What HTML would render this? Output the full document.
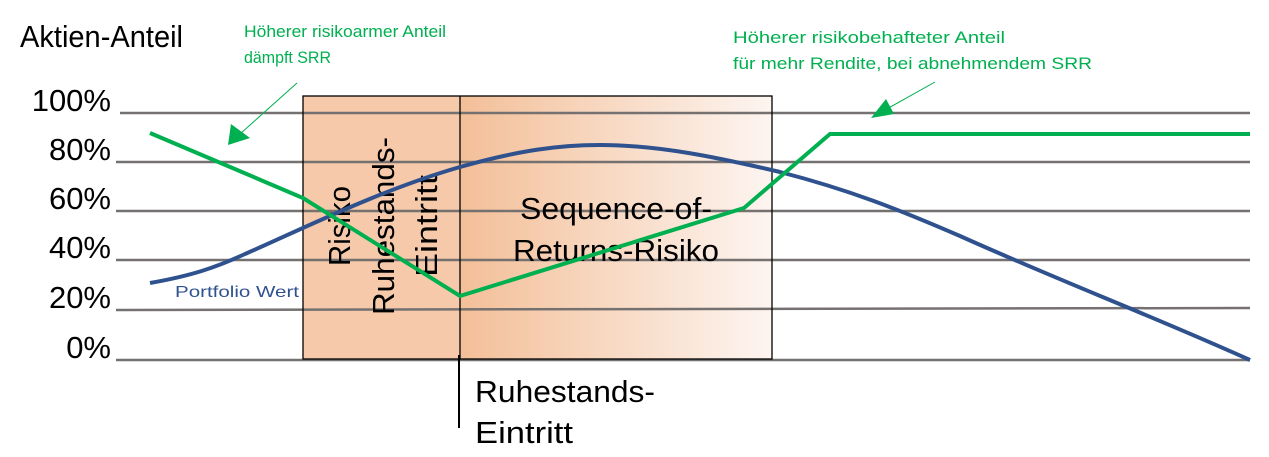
<!DOCTYPE html>
<html><head><meta charset="utf-8"><style>html,body{margin:0;padding:0;background:#fff}svg{display:block}</style></head>
<body>
<svg width="1269" height="457" viewBox="0 0 1269 457" xmlns="http://www.w3.org/2000/svg" font-family="Liberation Sans, sans-serif">
<defs>
<linearGradient id="g" x1="0" x2="1" y1="0" y2="0">
<stop offset="0" stop-color="#f3bf98"/><stop offset="1" stop-color="#fdf5f1"/>
</linearGradient>
</defs>
<rect x="303" y="96" width="157" height="263" fill="#f5c9a9"/>
<rect x="460" y="96" width="312" height="263" fill="url(#g)"/>
<g stroke="#767171" stroke-width="2.5">
<line x1="120" y1="113" x2="1250" y2="113"/>
<line x1="116" y1="162" x2="1250" y2="162"/>
<line x1="116" y1="211" x2="1250" y2="211"/>
<line x1="116" y1="260" x2="1250" y2="260"/>
<line x1="116" y1="310" x2="1250" y2="308"/>
<line x1="116" y1="360" x2="1250" y2="360"/>
</g>
<rect x="303" y="96" width="469" height="263" fill="none" stroke="#000" stroke-width="1.3"/>
<line x1="460" y1="96" x2="460" y2="359" stroke="#000" stroke-width="1.3"/>
<line x1="459" y1="355" x2="459" y2="428" stroke="#000" stroke-width="2"/>
<g font-size="31" fill="#000" lengthAdjust="spacingAndGlyphs">
<text transform="translate(350,226) rotate(-90)" text-anchor="middle" textLength="80" lengthAdjust="spacingAndGlyphs">Risiko</text>
<text transform="translate(394,226) rotate(-90)" text-anchor="middle" textLength="178" lengthAdjust="spacingAndGlyphs">Ruhestands-</text>
<text transform="translate(437,226) rotate(-90)" text-anchor="middle" textLength="102" lengthAdjust="spacingAndGlyphs">Eintritt</text>
<text x="616" y="219" text-anchor="middle" textLength="192" lengthAdjust="spacingAndGlyphs">Sequence-of-</text>
<text x="616" y="261" text-anchor="middle" textLength="206" lengthAdjust="spacingAndGlyphs">Returns-Risiko</text>
<text x="475" y="402" textLength="180" lengthAdjust="spacingAndGlyphs">Ruhestands-</text>
<text x="475" y="443" textLength="98" lengthAdjust="spacingAndGlyphs">Eintritt</text>
<text x="20" y="47" textLength="163" lengthAdjust="spacingAndGlyphs">Aktien-Anteil</text>
</g>
<g font-size="31" fill="#000" text-anchor="end">
<text x="111" y="111">100%</text>
<text x="111" y="160">80%</text>
<text x="111" y="209">60%</text>
<text x="111" y="258">40%</text>
<text x="111" y="308">20%</text>
<text x="111" y="358">0%</text>
</g>
<path d="M150,283 C190,276 215,268 245,254 C300,230 380,190 460,167 C520,150 560,145 600,145 C660,145 720,158 780,172 C850,190 900,210 960,236 C1060,281 1150,315 1250,360" fill="none" stroke="#2f528f" stroke-width="4"/>
<text x="175" y="297" font-size="16" fill="#2f528f" textLength="124" lengthAdjust="spacingAndGlyphs">Portfolio Wert</text>
<polyline points="150,133 303,198 460,296 744,208 830,134 1250,134" fill="none" stroke="#00b050" stroke-width="4"/>
<g fill="#00b050" font-size="17">
<text x="244" y="37" textLength="202" lengthAdjust="spacingAndGlyphs">Höherer risikoarmer Anteil</text>
<text x="244" y="63" textLength="87" lengthAdjust="spacingAndGlyphs">dämpft SRR</text>
<text x="733" y="43" textLength="272" lengthAdjust="spacingAndGlyphs">Höherer risikobehafteter Anteil</text>
<text x="733" y="69" textLength="359" lengthAdjust="spacingAndGlyphs">für mehr Rendite, bei abnehmendem SRR</text>
</g>
<line x1="297" y1="83" x2="240" y2="134" stroke="#00b050" stroke-width="1"/>
<polygon points="228,145 231,124 250,138" fill="#00b050"/>
<line x1="935" y1="82" x2="885" y2="110" stroke="#00b050" stroke-width="1"/>
<polygon points="871,118 886,99 894,114" fill="#00b050"/>
</svg>
</body></html>
